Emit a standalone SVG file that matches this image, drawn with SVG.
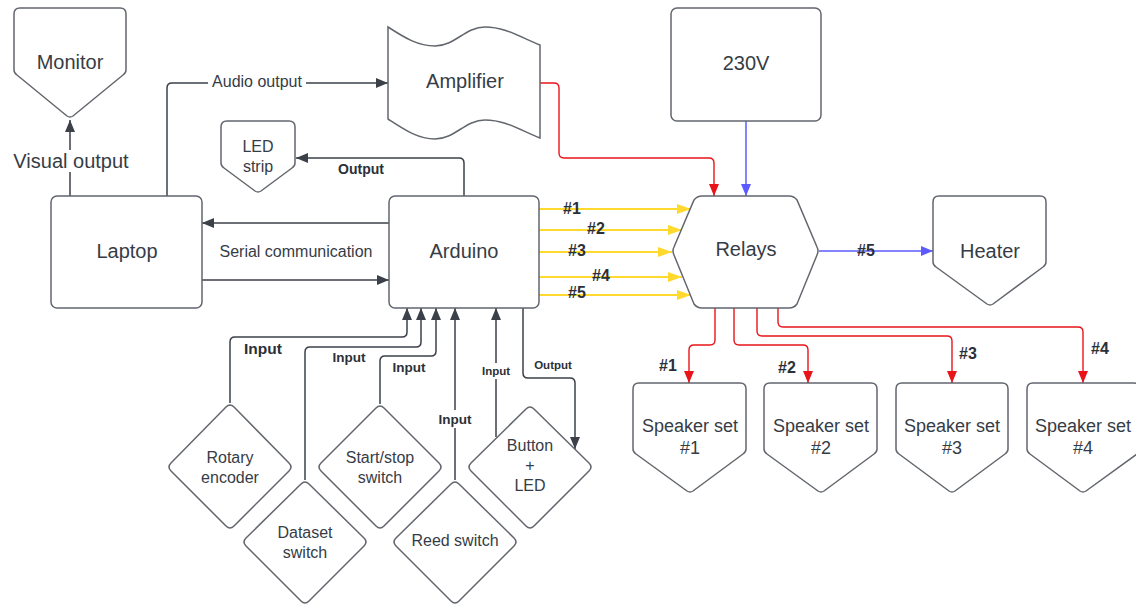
<svg xmlns="http://www.w3.org/2000/svg" width="1136" height="607" viewBox="0 0 1136 607">
<style>
.n{fill:#fff;stroke:#62666d;stroke-width:1.5}
.t{font-family:"Liberation Sans",Arial,sans-serif;fill:#363c46;text-anchor:middle}
.b{font-family:"Liberation Sans",Arial,sans-serif;fill:#2b3038;text-anchor:middle;font-weight:bold}
.d{fill:none;stroke:#3b4049;stroke-width:1.5}
.y{fill:none;stroke:#ffd92e;stroke-width:2.2}
.r{fill:none;stroke:#e8141a;stroke-width:1.4}
.bl{fill:none;stroke:#5b5bff;stroke-width:1.5}
.bg{fill:#fff}
</style>
<defs>
<marker id="ad" viewBox="0 0 12 10" refX="12" refY="5" markerWidth="12" markerHeight="10" markerUnits="userSpaceOnUse" orient="auto"><path d="M0,0 L12,5 L0,10 z" fill="#3b4049"/></marker>
<marker id="ay" viewBox="0 0 14 10" refX="14" refY="5" markerWidth="14" markerHeight="10" markerUnits="userSpaceOnUse" orient="auto"><path d="M0,0 L14,5 L0,10 z" fill="#ffd92e"/></marker>
<marker id="ar" viewBox="0 0 12 10" refX="12" refY="5" markerWidth="12" markerHeight="10" markerUnits="userSpaceOnUse" orient="auto"><path d="M0,0 L12,5 L0,10 z" fill="#e8141a"/></marker>
<marker id="ab" viewBox="0 0 12 10" refX="12" refY="5" markerWidth="12" markerHeight="10" markerUnits="userSpaceOnUse" orient="auto"><path d="M0,0 L12,5 L0,10 z" fill="#5b5bff"/></marker>
</defs>

<g id="connectors">
<path class="d" d="M70,196 V120" marker-end="url(#ad)"/>
<path class="d" d="M167,196 V88 Q167,83 172,83 H388" marker-end="url(#ad)"/>
<path class="d" d="M464,196 V163 Q464,158 459,158 H296" marker-end="url(#ad)"/>
<path class="d" d="M389,223 H202" marker-end="url(#ad)"/>
<path class="d" d="M202,280 H389" marker-end="url(#ad)"/>
<path class="y" d="M539,209 H691" marker-end="url(#ay)"/>
<path class="y" d="M539,230 H682" marker-end="url(#ay)"/>
<path class="y" d="M539,252 H672" marker-end="url(#ay)"/>
<path class="y" d="M539,277 H682" marker-end="url(#ay)"/>
<path class="y" d="M539,295 H691" marker-end="url(#ay)"/>
<path class="r" d="M540,83 H554 Q559,83 559,88 V153 Q559,158 564,158 H709 Q714,158 714,163 V196" marker-end="url(#ar)"/>
<path class="bl" d="M746,121 V196" marker-end="url(#ab)"/>
<path class="bl" d="M819,251 H933" marker-end="url(#ab)"/>
<path class="r" d="M715,308 V340 Q715,345 710,345 H694 Q689,345 689,350 V383" marker-end="url(#ar)"/>
<path class="r" d="M734,308 V340 Q734,345 739,345 H803 Q808,345 808,350 V383" marker-end="url(#ar)"/>
<path class="r" d="M757,308 V331 Q757,336 762,336 H947 Q952,336 952,341 V383" marker-end="url(#ar)"/>
<path class="r" d="M778,308 V322 Q778,327 783,327 H1078 Q1083,327 1083,332 V383" marker-end="url(#ar)"/>
<path class="d" d="M230,403 V342 Q230,337 235,337 H402 Q407,337 407,332 V308" marker-end="url(#ad)"/>
<path class="d" d="M305,480 V352 Q305,347 310,347 H416 Q421,347 421,342 V308" marker-end="url(#ad)"/>
<path class="d" d="M380,404 V361 Q380,356 385,356 H431 Q436,356 436,351 V308" marker-end="url(#ad)"/>
<path class="d" d="M455,480 V308" marker-end="url(#ad)"/>
<path class="d" d="M496,437 V308" marker-end="url(#ad)"/>
<path class="d" d="M523,308 V373 Q523,378 528,378 H570 Q575,378 575,383 V449" marker-end="url(#ad)"/>

<rect class="bg" x="11" y="150" width="120" height="22"/>
<text class="t" x="71" y="168" font-size="20">Visual output</text>
<rect class="bg" x="208" y="73" width="98" height="19"/>
<text class="t" x="257" y="87" font-size="16">Audio output</text>
<text class="b" x="361" y="174" font-size="14">Output</text>
<text class="t" x="296" y="257" font-size="16">Serial communication</text>
<text class="b" x="572" y="214" font-size="16">#1</text>
<text class="b" x="596" y="234" font-size="16">#2</text>
<text class="b" x="577" y="256" font-size="16">#3</text>
<text class="b" x="601" y="281" font-size="16">#4</text>
<text class="b" x="577" y="298" font-size="16">#5</text>
<text class="b" x="866" y="256" font-size="16">#5</text>
<text class="b" x="668" y="371" font-size="16">#1</text>
<text class="b" x="787" y="373" font-size="16">#2</text>
<text class="b" x="968" y="359" font-size="16">#3</text>
<text class="b" x="1100" y="354" font-size="16">#4</text>
<text class="b" x="263" y="354" font-size="15.5">Input</text>
<text class="b" x="349" y="362" font-size="13.5">Input</text>
<text class="b" x="409" y="372" font-size="13.5">Input</text>
<rect class="bg" x="435" y="410" width="40" height="18"/>
<text class="b" x="455" y="424" font-size="13.5">Input</text>
<rect class="bg" x="480" y="363" width="32" height="16"/>
<text class="b" x="496" y="375" font-size="11.5">Input</text>
<text class="b" x="553" y="369" font-size="11.5">Output</text>
</g>

<g id="monitor"><path class="n" d="M14,14 Q14,8 20,8 H120 Q126,8 126,14 V70 Q126,73 123,75 L73,116 Q70,118 67,116 L17,75 Q14,73 14,70 Z"/><text class="t" x="70" y="69" font-size="20">Monitor</text></g>
<g id="laptop"><rect class="n" x="51" y="196" width="151" height="112" rx="6"/><text class="t" x="127" y="258" font-size="20">Laptop</text></g>
<g id="amplifier"><path class="n" d="M388,27 C405,38 418,46 435,46 C455,46 465,27 485,27 C505,27 520,37 540,45 V138 C520,130 505,120 485,120 C465,120 455,139 435,139 C418,139 405,130 388,119 Z"/><text class="t" x="465" y="88" font-size="20">Amplifier</text></g>
<g id="v230"><rect class="n" x="671" y="8" width="150" height="113" rx="6"/><text class="t" x="746" y="70" font-size="20">230V</text></g>
<g id="ledstrip"><path class="n" d="M221,127 Q221,121 227,121 H289 Q295,121 295,127 V163 Q295,166 292,168 L261,191 Q258,193 255,191 L224,168 Q221,166 221,163 Z"/><text class="t" x="258" y="152" font-size="16">LED</text><text class="t" x="258" y="172" font-size="16">strip</text></g>
<g id="arduino"><rect class="n" x="389" y="196" width="150" height="112" rx="6"/><text class="t" x="464" y="258" font-size="20">Arduino</text></g>
<g id="relays"><path class="n" d="M702,196 H789 Q794,196 797,200 L817,247 Q819,251 817,255 L797,304 Q794,308 789,308 H702 Q697,308 694,304 L674,255 Q672,251 674,247 L694,200 Q697,196 702,196 Z"/><text class="t" x="746" y="256" font-size="20">Relays</text></g>
<g id="heater"><path class="n" d="M933,202 Q933,196 939,196 H1040 Q1046,196 1046,202 V262 Q1046,265 1043,267 L993,304 Q990,306 987,304 L936,267 Q933,265 933,262 Z"/><text class="t" x="990" y="258" font-size="20">Heater</text></g>
<g id="speaker1"><path class="n" d="M633,389 Q633,383 639,383 H740 Q746,383 746,389 V449 Q746,452 743,454 L693,491 Q690,493 687,491 L636,454 Q633,452 633,449 Z"/><text class="t" x="690" y="432" font-size="18">Speaker set</text><text class="t" x="690" y="454" font-size="18">#1</text></g>
<g id="speaker2"><path class="n" d="M764,389 Q764,383 770,383 H871 Q877,383 877,389 V449 Q877,452 874,454 L824,491 Q821,493 818,491 L767,454 Q764,452 764,449 Z"/><text class="t" x="821" y="432" font-size="18">Speaker set</text><text class="t" x="821" y="454" font-size="18">#2</text></g>
<g id="speaker3"><path class="n" d="M896,389 Q896,383 902,383 H1002 Q1008,383 1008,389 V449 Q1008,452 1005,454 L955,491 Q952,493 949,491 L899,454 Q896,452 896,449 Z"/><text class="t" x="952" y="432" font-size="18">Speaker set</text><text class="t" x="952" y="454" font-size="18">#3</text></g>
<g id="speaker4"><path class="n" d="M1027,389 Q1027,383 1033,383 H1134 Q1140,383 1140,389 V449 Q1140,452 1137,454 L1086,491 Q1083,493 1080,491 L1030,454 Q1027,452 1027,449 Z"/><text class="t" x="1083" y="432" font-size="18">Speaker set</text><text class="t" x="1083" y="454" font-size="18">#4</text></g>
<g id="rotary"><path class="n" d="M226,407 Q230,403 234,407 L289,463 Q293,467 289,471 L234,526 Q230,530 226,526 L171,471 Q167,467 171,463 Z"/><text class="t" x="230" y="463" font-size="16">Rotary</text><text class="t" x="230" y="483" font-size="16">encoder</text></g>
<g id="dataset"><path class="n" d="M301,484 Q305,480 309,484 L364,538 Q368,542 364,546 L309,601 Q305,605 301,601 L246,546 Q242,542 246,538 Z"/><text class="t" x="305" y="538" font-size="16">Dataset</text><text class="t" x="305" y="558" font-size="16">switch</text></g>
<g id="startstop"><path class="n" d="M376,408 Q380,404 384,408 L439,463 Q443,467 439,471 L384,526 Q380,530 376,526 L321,471 Q317,467 321,463 Z"/><text class="t" x="380" y="463" font-size="16">Start/stop</text><text class="t" x="380" y="483" font-size="16">switch</text></g>
<g id="reed"><path class="n" d="M451,484 Q455,480 459,484 L514,538 Q518,542 514,546 L459,601 Q455,605 451,601 L396,546 Q392,542 396,538 Z"/><text class="t" x="455" y="546" font-size="16">Reed switch</text></g>
<g id="button"><path class="n" d="M526,409 Q530,405 534,409 L589,463 Q593,467 589,471 L534,526 Q530,530 526,526 L471,471 Q467,467 471,463 Z"/><text class="t" x="530" y="451" font-size="16">Button</text><text class="t" x="530" y="471" font-size="16">+</text><text class="t" x="530" y="491" font-size="16">LED</text></g>
</svg>
